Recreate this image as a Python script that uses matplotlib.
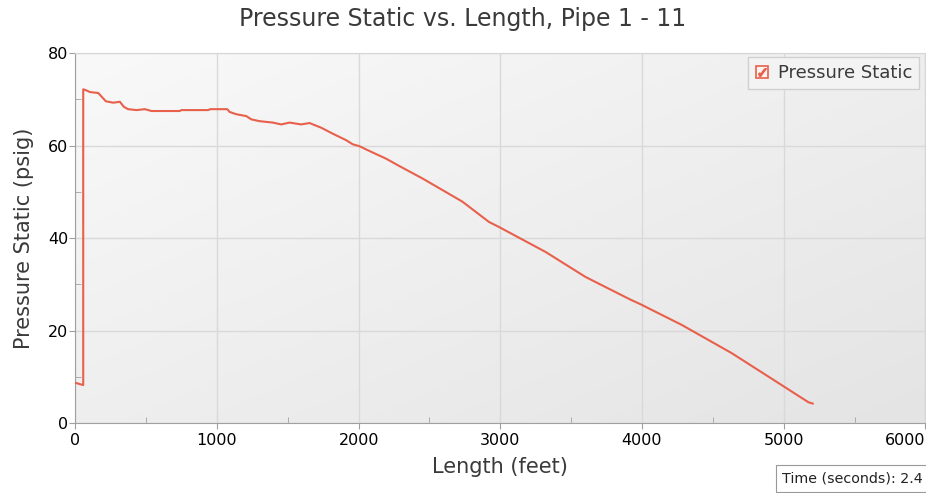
import numpy as np
import matplotlib
matplotlib.use("Agg")
import matplotlib.pyplot as plt
from matplotlib.colors import LinearSegmentedColormap
from matplotlib.lines import Line2D
from matplotlib.ticker import MultipleLocator

# data
length = [0, 56, 56, 75, 104, 162, 186, 216, 268, 315, 343, 373, 432, 491, 538,
          737, 749, 937, 953, 1073, 1089, 1137, 1207, 1242, 1301, 1394, 1454,
          1512, 1594, 1653, 1735, 1817, 1911, 1958, 2005, 2052, 2122, 2193,
          2287, 2451, 2732, 2920, 2991, 3320, 3601, 3918, 3989, 4282, 4634,
          4986, 5174, 5205]
pressure = [8.7, 8.2, 72.2, 72.0, 71.6, 71.4, 70.6, 69.6, 69.3, 69.5, 68.4,
            67.9, 67.7, 67.9, 67.5, 67.5, 67.7, 67.7, 67.9, 67.9, 67.3, 66.8,
            66.4, 65.7, 65.3, 65.0, 64.6, 65.0, 64.6, 64.9, 63.9, 62.6, 61.2,
            60.3, 59.9, 59.2, 58.2, 57.2, 55.6, 52.9, 47.9, 43.5, 42.4, 37.0,
            31.6, 26.7, 25.7, 21.2, 15.1, 8.2, 4.5, 4.2]
x_ticks = [0, 1000, 2000, 3000, 4000, 5000, 6000]
series_name = "Pressure Static"
title = "Pressure Static vs. Length, Pipe 1 - 11"
time_note = "Time (seconds): 2.4"

plt.rcParams["font.family"] = ["DejaVu Sans"]
line_col = "#E8604C"

fig = plt.figure(figsize=(9.26, 4.93), dpi=100)
ax = fig.add_axes([0.0813, 0.142, 0.918, 0.750])

# gradient background
gx, gy = np.meshgrid(np.linspace(0, 1, 200), np.linspace(1, 0, 200))
grad = (gx + (1 - gy)) / 2
cmap = LinearSegmentedColormap.from_list("bg", ["#f9f9f9", "#e4e4e4"])
ax.imshow(grad, extent=[0, 1, 0, 1], transform=ax.transAxes, aspect="auto",
          cmap=cmap, zorder=0, interpolation="bilinear")

ax.plot(length, pressure, color=line_col, lw=1.5, zorder=3)

ax.set_xlim(0, 6000)
ax.set_ylim(0, 80)
ax.set_xticks(x_ticks)
ax.xaxis.set_minor_locator(MultipleLocator(500))
ax.yaxis.set_major_locator(MultipleLocator(20))
ax.yaxis.set_minor_locator(MultipleLocator(10))

ax.set_axisbelow(True)
ax.grid(True, which="major", color="#d9d9d9", lw=1.0)
ax.tick_params(axis="both", which="major", length=4, direction="out",
               color="#a0a0a0", labelsize=11.5, labelcolor="black")
ax.tick_params(axis="y", which="major", pad=1)
ax.tick_params(axis="both", which="minor", length=4, direction="in",
               color="#a0a0a0")
for s in ["left", "bottom"]:
    ax.spines[s].set_color("#a0a0a0")
for s in ["top", "right"]:
    ax.spines[s].set_color("#d6d6d6")

# keep the last x label inside the figure
ax.xaxis.get_major_ticks()[len(x_ticks) - 1].label1.set_horizontalalignment("right")

fig.suptitle(title, x=0.5, y=0.985, fontsize=17, color="#3a3a3a")
ax.set_xlabel("Length (feet)", fontsize=15, color="#3a3a3a", labelpad=6)
ax.set_ylabel("Pressure Static (psig)", fontsize=15, color="#3a3a3a", labelpad=10)

# checkbox style legend
box = Line2D([], [], marker="s", ls="none", markersize=9,
             markerfacecolor="#fdf3f1", markeredgecolor=line_col, markeredgewidth=1.2)
tick = Line2D([], [], marker=r"$\checkmark$", ls="none", markersize=5.5,
              color=line_col)
leg = ax.legend([(box, tick)], [series_name], loc="upper right",
                fontsize=13, frameon=True, fancybox=False,
                handlelength=0.8, handletextpad=0.45, borderpad=0.4,
                borderaxespad=0, bbox_to_anchor=(0.993, 0.99))
leg.get_frame().set_edgecolor("#d0d0d0")
leg.get_frame().set_facecolor("#f3f3f3")
leg.get_frame().set_alpha(1)
for t in leg.get_texts():
    t.set_color("#3a3a3a")

fig.text(0.9965, 0.022, time_note, fontsize=10.3, color="#222222", ha="right",
         bbox=dict(boxstyle="square,pad=0.45", fc="white", ec="#999999", lw=0.8))

fig.savefig("out.png", dpi=100)
